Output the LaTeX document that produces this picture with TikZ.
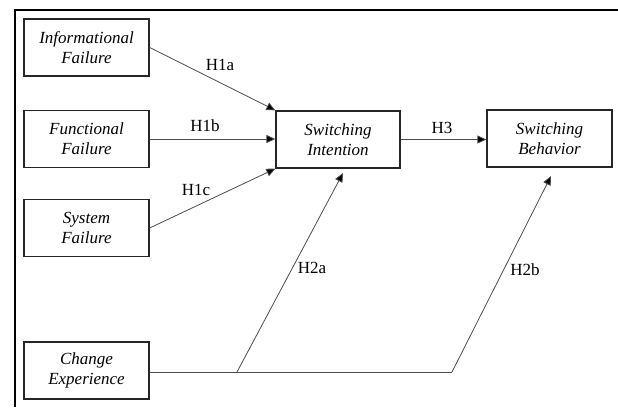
\documentclass[tikz,border=0pt]{standalone}
\usepackage{fontspec}
\setmainfont{Liberation Serif}
\usetikzlibrary{arrows.meta}
\begin{document}
\begin{tikzpicture}[x=1pt,y=-1pt,
  var/.style={draw=black!85,line width=1.3pt,minimum width=125pt,minimum height=57pt,inner sep=0pt,align=center,font=\fontsize{17}{20}\selectfont\itshape},
  lbl/.style={font=\fontsize{17}{20}\selectfont},
  arr/.style={draw=black!70,line width=0.8pt,-{Triangle[length=9pt,width=8pt,fill=black]}},
  ln/.style={draw=black!70,line width=0.8pt}]
\useasboundingbox (0,0) rectangle (618,407);
\draw[line width=2pt] (15,407) -- (15,10) -- (618,10);
\node[var] (inf) at (86.5,47.5) {Informational\\Failure};
\node[var] (fun) at (86.5,139) {Functional\\Failure};
\node[var] (sys) at (86.5,228) {System\\Failure};
\node[var] (chg) at (86.5,370.5) {Change\\Experience};
\node[var,minimum width=124pt] (si) at (338,139.5) {Switching\\Intention};
\node[var] (sb) at (549.5,138.5) {Switching\\Behavior};
\coordinate (j1) at (237,372);
\coordinate (j2) at (452,372);
\coordinate (t1) at (343,173);
\coordinate (t2) at (551,176);
\draw[arr] (inf.east) -- (si.north west);
\draw[arr] (fun.east) -- (fun.east -| si.west);
\draw[arr] (sys.east) -- (si.south west);
\draw[arr] (si.east) -- (si.east -| sb.west);
\draw[ln] (chg.east |- j1) -- (j2);
\draw[arr] (j1) -- (t1);
\draw[arr] (j2) -- (t2);
\node[lbl] (h1a) at (220,65) {H1a};
\node[lbl] (h1b) at (205,126) {H1b};
\node[lbl] (h1c) at (196,190) {H1c};
\node[lbl] (h3) at (442,128) {H3};
\node[lbl] (h2a) at (312,268) {H2a};
\node[lbl] (h2b) at (525,270) {H2b};
\end{tikzpicture}
\end{document}
